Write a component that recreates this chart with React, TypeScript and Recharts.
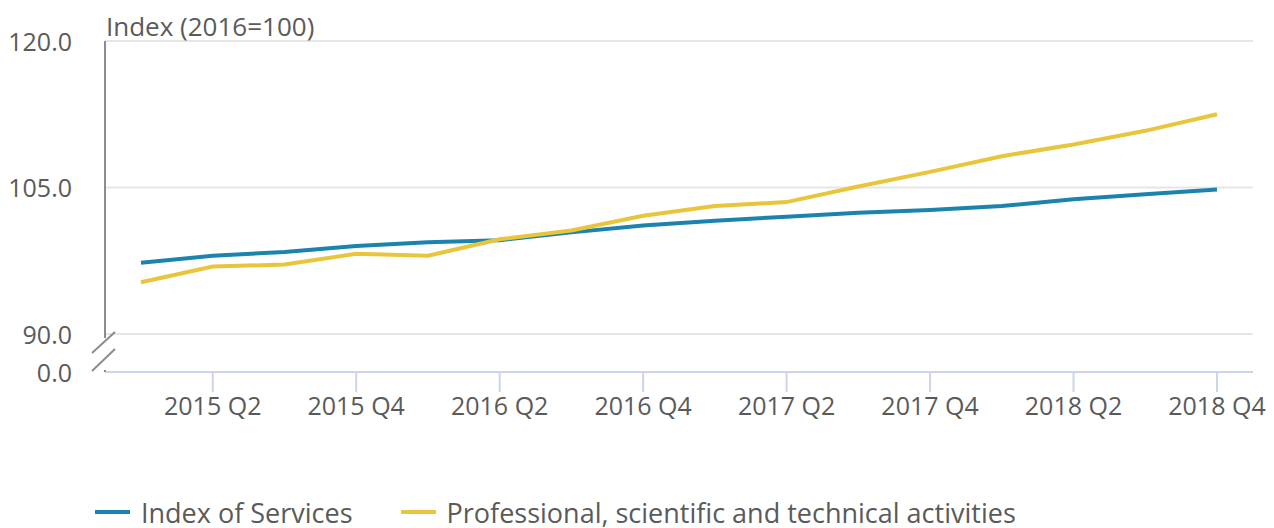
import React from 'react'
import { LineChart, Line, XAxis, YAxis, CartesianGrid, Legend } from 'recharts'

const quarters = [
  '2015 Q1', '2015 Q2', '2015 Q3', '2015 Q4',
  '2016 Q1', '2016 Q2', '2016 Q3', '2016 Q4',
  '2017 Q1', '2017 Q2', '2017 Q3', '2017 Q4',
  '2018 Q1', '2018 Q2', '2018 Q3', '2018 Q4'
]
const indexOfServices = [
  97.3, 98.0, 98.4, 99.0, 99.4, 99.6, 100.4, 101.1,
  101.6, 102.0, 102.4, 102.7, 103.1, 103.8, 104.3, 104.8
]
const professional = [
  95.3, 96.9, 97.1, 98.2, 98.0, 99.7, 100.6, 102.1,
  103.1, 103.5, 105.1, 106.6, 108.2, 109.4, 110.8, 112.5
]
const xTicks = ['2015 Q2', '2015 Q4', '2016 Q2', '2016 Q4', '2017 Q2', '2017 Q4', '2018 Q2', '2018 Q4']
// lowest tick stands for the broken-off zero
const yTicks = [86.1, 90, 105, 120]
const unitLabel = 'Index (2016=100)'
const seriesNames = ['Index of Services', 'Professional, scientific and technical activities']

const chartData = quarters.map((q, i) => ({
  quarter: q,
  services: indexOfServices[i],
  professional: professional[i]
}))

const BLUE = '#1b84ae'
const YELLOW = '#e9c53b'
const TEXT = '#5a5a5a'
const Y_MARGIN = 33

const YTick = (props: any) => {
  const { x, y, payload } = props
  const ax = x + Y_MARGIN
  const isZero = payload.value === yTicks[0]
  return (
    <g>
      <text x={x} y={y} dy={10} textAnchor="end" fill={TEXT} fontSize={25}>
        {isZero ? '0.0' : payload.value.toFixed(1)}
      </text>
      {payload.value === 120 && (
        <text x={ax + 1} y={y - 5} fill={TEXT} fontSize={26}>
          {unitLabel}
        </text>
      )}
      {isZero && (
        <g>
          <rect x={ax - 3} y={y - 34} width={6} height={32} fill="#fff" />
          <line x1={ax - 13} y1={y - 19} x2={ax + 10} y2={y - 40} stroke="#8c8c8c" strokeWidth={2} />
          <line x1={ax - 13} y1={y - 1} x2={ax + 10} y2={y - 23} stroke="#8c8c8c" strokeWidth={2} />
        </g>
      )}
    </g>
  )
}

const LegendContent = (props: any) => {
  const { payload } = props
  return (
    <div style={{ display: 'flex', height: 32, alignItems: 'center', paddingLeft: 87 }}>
      {(payload || []).map((p: any) => (
        <div key={p.value} style={{ display: 'flex', alignItems: 'center', marginRight: 48 }}>
          <span style={{ display: 'inline-block', width: 35, height: 4, background: p.color, marginRight: 11 }} />
          <span style={{ fontSize: 27, color: TEXT }}>{p.value}</span>
        </div>
      ))}
    </div>
  )
}

const App = () => {
  return (
    <div style={{ fontFamily: '"Open Sans", sans-serif' }}>
      <LineChart
        width={1258}
        height={520}
        data={chartData}
        margin={{ top: 33, right: 13, left: 0, bottom: 0 }}
      >
        <CartesianGrid vertical={false} stroke="#e6e6e6" strokeWidth={2} />
        <XAxis
          dataKey="quarter"
          ticks={xTicks}
          interval={0}
          padding={{ left: 36, right: 36 }}
          height={124}
          tickSize={20}
          tickMargin={5}
          axisLine={{ stroke: '#cbd6e8', strokeWidth: 2 }}
          tickLine={{ stroke: '#cbd6e8', strokeWidth: 2 }}
          tick={{ fill: TEXT, fontSize: 25 }}
        />
        <YAxis
          type="number"
          domain={[yTicks[0], 120]}
          ticks={yTicks}
          interval={0}
          width={97}
          tickSize={0}
          tickMargin={Y_MARGIN}
          tickLine={false}
          axisLine={{ stroke: '#8c8c8c', strokeWidth: 2 }}
          tick={<YTick />}
        />
        <Legend verticalAlign="bottom" align="left" content={<LegendContent />} />
        <Line
          type="linear"
          dataKey="services"
          name={seriesNames[0]}
          stroke={BLUE}
          strokeWidth={4}
          dot={false}
          isAnimationActive={false}
        />
        <Line
          type="linear"
          dataKey="professional"
          name={seriesNames[1]}
          stroke={YELLOW}
          strokeWidth={4}
          dot={false}
          isAnimationActive={false}
        />
      </LineChart>
    </div>
  )
}

export default App
